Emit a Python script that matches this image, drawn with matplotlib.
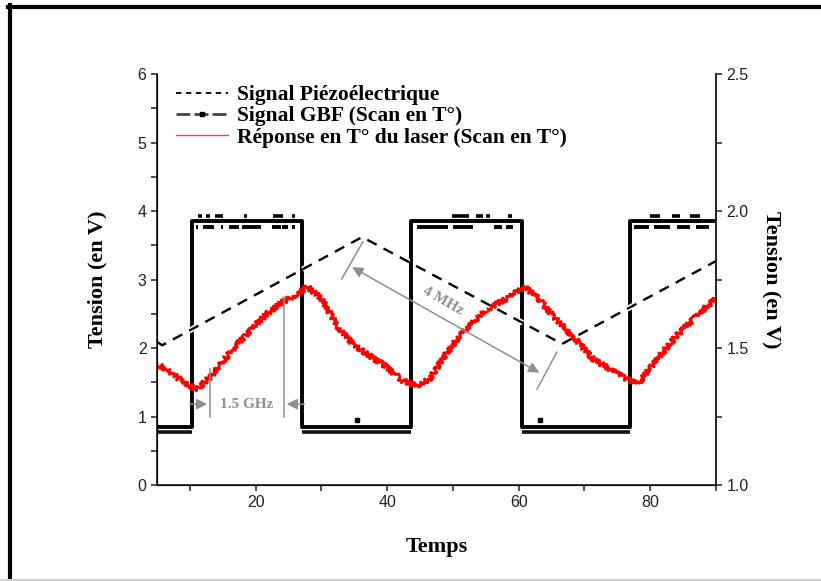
import numpy as np
import matplotlib
matplotlib.use('Agg')
import matplotlib.pyplot as plt
from matplotlib.lines import Line2D
import matplotlib.patheffects as pe
from matplotlib.ticker import MultipleLocator, FormatStrFormatter

# --- data (left axis units, V) ---
# piezo signal (dashed triangle), corner points
piezo_t = [5.0, 5.8, 36.2, 66.6, 90.0]
piezo_v = [2.09, 2.04, 3.62, 2.06, 3.27]

# laser response (red, noisy)
laser_t = [5.0, 7.0, 9.0, 11.1, 13.1, 16.6, 19.1, 21.7, 24.1, 26.3, 27.9,
           30.0, 32.4, 34.8, 37.4, 40.0, 42.4, 44.5, 46.5, 49.1, 51.5, 55.2,
           58.2, 60.9, 63.0, 65.2, 69.3, 71.3, 75.8, 78.1, 81.4, 84.0, 88.6, 90.0]
laser_v = [1.77, 1.65, 1.50, 1.40, 1.58, 1.99, 2.25, 2.50, 2.67, 2.79, 2.89,
           2.72, 2.32, 2.06, 1.88, 1.72, 1.52, 1.45, 1.55, 1.94, 2.23, 2.57,
           2.72, 2.89, 2.72, 2.47, 2.06, 1.84, 1.58, 1.47, 1.88, 2.18, 2.61, 2.72]

# GBF square signal
gbf_edges = [5.0, 10.3, 27.0, 43.6, 60.5, 77.0, 90.0]
gbf_level = [0.85, 3.85, 0.85, 3.85, 0.85, 3.85]

# noise specks on the GBF plateaus (runs start / end)
above_x0 = [11.3, 12.5, 13.8, 18.3, 22.6, 25.5, 49.8, 53.5, 55.0, 58.3, 80.0, 83.3, 86.0]
above_x1 = [11.8, 13.0, 15.0, 18.7, 24.2, 26.0, 52.5, 54.6, 55.6, 59.0, 81.5, 84.5, 87.5]
below_x0 = [10.9, 12.0, 14.7, 16.0, 18.0, 22.5, 24.0, 25.6, 44.5, 50.0, 56.3, 58.1, 77.6, 80.5, 84.0, 87.0]
below_x1 = [11.3, 13.6, 15.1, 17.4, 20.8, 23.8, 24.9, 26.0, 49.2, 53.1, 57.5, 59.2, 79.8, 83.0, 86.0, 89.0]
low2_x0 = [5.0, 27.0, 60.5]
low2_x1 = [10.3, 43.6, 77.0]
lowspeck_x = [35.4, 63.2]

labels = ['Signal Piézoélectrique', 'Signal GBF (Scan en T°)',
          'Réponse en T° du laser (Scan en T°)']

serif = 'Liberation Serif'
sans = 'Liberation Sans'
grey = '#8f8f8f'

fig = plt.figure(figsize=(8.21, 5.81), dpi=100)
fig.patch.set_facecolor('white')
ax = fig.add_axes([0.1912, 0.1652, 0.6809, 0.7074])

# GBF
xs = gbf_edges
ys = gbf_level + [gbf_level[-1]]
ax.plot(xs, ys, drawstyle='steps-post', color='k', lw=2.8, zorder=2)
ax.hlines([0.78] * len(low2_x0), low2_x0, low2_x1, color='#111111', lw=2.6, zorder=2)
ax.hlines([3.92] * len(above_x0), above_x0, above_x1, color='k', lw=2.6, zorder=2)
ax.hlines([3.77] * len(below_x0), below_x0, below_x1, color='k', lw=2.8, zorder=2)
ax.plot(lowspeck_x, [0.95] * len(lowspeck_x), 's', color='k', ms=3, zorder=2)

# laser response
red, = ax.plot(laser_t, laser_v, color='#ff0000', lw=2.0, zorder=3)
red.set_sketch_params(scale=2.6, length=2.5, randomness=3)

# piezo
ax.plot(piezo_t, piezo_v, color='k', lw=1.7, dashes=(4.5, 3.3), zorder=4,
        path_effects=[pe.Stroke(linewidth=4, foreground='white'), pe.Normal()])

# 1.5 GHz annotation
ax.plot([13.05, 13.05], [0.99, 1.69], color=grey, lw=1.1, zorder=5)
ax.plot([24.3, 24.3], [0.99, 2.74], color=grey, lw=1.1, zorder=5)
ax.annotate('', xy=(13.05, 1.18), xytext=(9.6, 1.18),
            arrowprops=dict(arrowstyle='-|>', color=grey, lw=1.1, mutation_scale=16))
ax.annotate('', xy=(24.3, 1.18), xytext=(27.8, 1.18),
            arrowprops=dict(arrowstyle='-|>', color=grey, lw=1.1, mutation_scale=16))
ax.text(18.7, 1.18, '1.5 GHz', color=grey, fontsize=11, fontweight='bold',
        family=serif, ha='center', va='center')

# 4 MHz annotation
ax.plot([33.1, 36.3], [3.01, 3.55], color=grey, lw=1.1, zorder=5)
ax.plot([62.8, 65.8], [1.40, 1.94], color=grey, lw=1.1, zorder=5)
ax.annotate('', xy=(63.5, 1.62), xytext=(34.3, 3.20),
            arrowprops=dict(arrowstyle='<|-|>', color=grey, lw=1.1, mutation_scale=16))
ax.text(48.5, 2.69, '4 MHz', color=grey, fontsize=11, fontweight='bold',
        family=serif, ha='center', va='center', rotation=-29.5)

# axes
ax.set_xlim(5, 90)
ax.set_ylim(0, 6)
ax.xaxis.set_major_locator(MultipleLocator(20))
ax.xaxis.set_minor_locator(MultipleLocator(10))
ax.yaxis.set_major_locator(MultipleLocator(1))
ax.yaxis.set_minor_locator(MultipleLocator(0.5))
ax.spines['top'].set_visible(False)
for s in ['left', 'bottom', 'right']:
    ax.spines[s].set_linewidth(1.2)
    ax.spines[s].set_color('#222222')
ax.tick_params(which='both', direction='out', length=4, width=1.1, color='#222222',
               labelsize=11.5, labelcolor='#222222')
for t in ax.get_xticklabels() + ax.get_yticklabels():
    t.set_family(sans)

ax2 = ax.twinx()
ax2.set_ylim(1.0, 2.5)
ax2.yaxis.set_major_locator(MultipleLocator(0.5))
ax2.yaxis.set_minor_locator(MultipleLocator(0.25))
ax2.yaxis.set_major_formatter(FormatStrFormatter('%.1f'))
ax2.spines['top'].set_visible(False)
ax2.spines['right'].set_linewidth(1.2)
ax2.spines['right'].set_color('#222222')
ax2.tick_params(which='both', direction='out', length=4, width=1.1, color='#222222',
                labelsize=11.5, labelcolor='#222222')
for t in ax2.get_yticklabels():
    t.set_family(sans)

lab = dict(family=serif, fontweight='bold', fontsize=16)
ax.set_xlabel('Temps', labelpad=19, **lab)
ax.set_ylabel('Tension (en V)', labelpad=22, **lab)
ax2.set_ylabel('Tension (en V)', rotation=270, labelpad=24, **lab)

handles = [Line2D([], [], color='k', lw=1.3, dashes=(3, 2.5)),
           Line2D([], [], color='#444444', lw=2, dashes=(5, 1.5), marker='s', ms=3.5,
                  mfc='k', mec='k'),
           Line2D([], [], color='#ff4040', lw=1)]
ax.legend(handles, labels, loc='upper left', bbox_to_anchor=(0.0, 1.02),
          frameon=False, handlelength=2.4, handletextpad=0.4, labelspacing=0.05,
          prop=dict(family=serif, weight='bold', size=15.5))

# picture frame
fig.add_artist(Line2D([10 / 821, 10 / 821], [0, 1 - 5 / 581], color='k', lw=3,
                      transform=fig.transFigure))
fig.add_artist(Line2D([8 / 821, 1], [1 - 7 / 581, 1 - 7 / 581], color='k', lw=3,
                      transform=fig.transFigure))
fig.add_artist(Line2D([0, 1], [1.5 / 581, 1.5 / 581], color='#d0d0d0', lw=1.5,
                      transform=fig.transFigure))

fig.savefig('out.png', dpi=100)
